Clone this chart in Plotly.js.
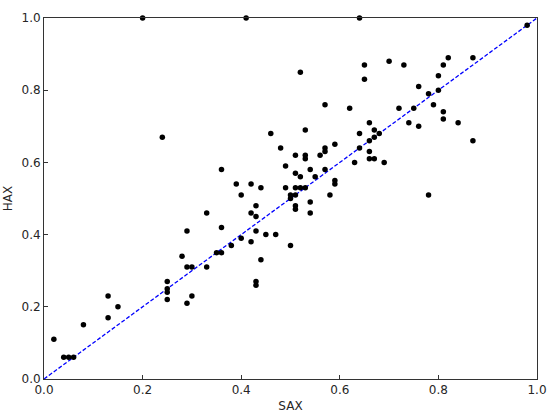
<!DOCTYPE html>
<html>
<head>
<meta charset="utf-8">
<script src="https://cdn.plot.ly/plotly-3.0.1.min.js"></script>
<style>html,body{margin:0;padding:0;background:#fff;}#chart{width:550px;height:417px;}</style>
</head>
<body>
<div id="chart"></div>
<script>
const sax = [
  0.02, 0.04, 0.05, 0.06, 0.08, 0.13, 0.13, 0.15, 0.20, 0.24,
  0.25, 0.25, 0.25, 0.25, 0.28, 0.29, 0.29, 0.29, 0.30, 0.30,
  0.33, 0.33, 0.35, 0.36, 0.36, 0.36, 0.38, 0.39, 0.40, 0.40,
  0.41, 0.42, 0.42, 0.42, 0.43, 0.43, 0.43, 0.43, 0.43, 0.44,
  0.44, 0.45, 0.46, 0.47, 0.48, 0.49, 0.49, 0.50, 0.50, 0.50,
  0.51, 0.51, 0.51, 0.51, 0.51, 0.51, 0.52, 0.52, 0.52, 0.53,
  0.53, 0.53, 0.53, 0.54, 0.54, 0.54, 0.55, 0.56, 0.57, 0.57,
  0.57, 0.57, 0.58, 0.59, 0.59, 0.59, 0.62, 0.63, 0.64, 0.64,
  0.64, 0.65, 0.65, 0.66, 0.66, 0.66, 0.66, 0.67, 0.67, 0.67,
  0.68, 0.69, 0.70, 0.72, 0.73, 0.74, 0.75, 0.76, 0.76, 0.78,
  0.78, 0.79, 0.80, 0.80, 0.81, 0.81, 0.81, 0.82, 0.84, 0.87,
  0.87, 0.98
];
const hax = [
  0.11, 0.06, 0.06, 0.06, 0.15, 0.23, 0.17, 0.20, 1.00, 0.67,
  0.27, 0.25, 0.24, 0.22, 0.34, 0.41, 0.31, 0.21, 0.31, 0.23,
  0.46, 0.31, 0.35, 0.35, 0.42, 0.58, 0.37, 0.54, 0.51, 0.39,
  1.00, 0.54, 0.46, 0.38, 0.48, 0.45, 0.41, 0.27, 0.26, 0.53,
  0.33, 0.40, 0.68, 0.40, 0.64, 0.59, 0.53, 0.51, 0.50, 0.37,
  0.62, 0.57, 0.53, 0.51, 0.48, 0.47, 0.85, 0.56, 0.53, 0.69,
  0.62, 0.61, 0.53, 0.58, 0.49, 0.46, 0.56, 0.62, 0.76, 0.64,
  0.63, 0.58, 0.51, 0.65, 0.55, 0.54, 0.75, 0.60, 1.00, 0.68,
  0.64, 0.87, 0.83, 0.71, 0.66, 0.63, 0.61, 0.69, 0.67, 0.61,
  0.68, 0.60, 0.88, 0.75, 0.87, 0.71, 0.75, 0.81, 0.70, 0.79,
  0.51, 0.76, 0.84, 0.80, 0.87, 0.74, 0.72, 0.89, 0.71, 0.89,
  0.66, 0.98
];
const diagX = [0, 1];
const diagY = [0, 1];
const tickVals = [0, 0.2, 0.4, 0.6, 0.8, 1.0];
const tickText = ["0.0", "0.2", "0.4", "0.6", "0.8", "1.0"];

const font = {family: "DejaVu Sans, sans-serif", size: 12, color: "#262626"};
const traces = [
  {x: diagX, y: diagY, mode: "lines", type: "scatter",
   line: {color: "#0000ff", width: 1.3, dash: "4px,2px"}, hoverinfo: "skip", cliponaxis: false},
  {x: sax, y: hax, mode: "markers", type: "scatter",
   marker: {color: "#000000", size: 5.5}, cliponaxis: false}
];
const axisCommon = {
  range: [0, 1], showgrid: false, zeroline: false, showline: true, mirror: true,
  linecolor: "#333333", linewidth: 1, ticks: "inside", ticklen: 4, tickcolor: "#333333",
  tickvals: tickVals, ticktext: tickText, tickfont: font
};
const layout = {
  width: 550, height: 417,
  margin: {l: 44, r: 13, t: 18, b: 38},
  paper_bgcolor: "#ffffff", plot_bgcolor: "#ffffff",
  showlegend: false,
  xaxis: Object.assign({}, axisCommon, {title: {text: "SAX", font: font, standoff: 5}}),
  yaxis: Object.assign({}, axisCommon, {title: {text: "HAX", font: font, standoff: 6}})
};
Plotly.newPlot("chart", traces, layout, {displayModeBar: false, staticPlot: true});
</script>
</body>
</html>
